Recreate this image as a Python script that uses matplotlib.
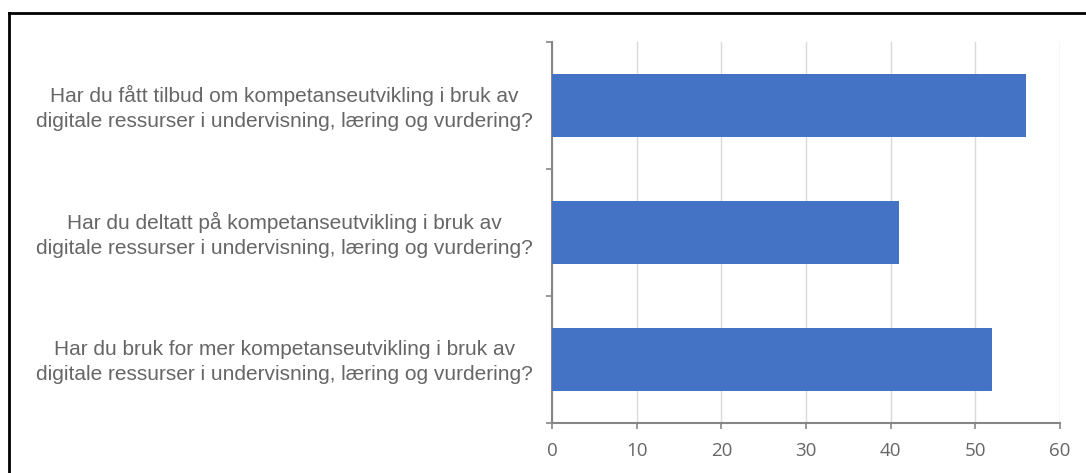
import matplotlib
matplotlib.use("Agg")
import matplotlib.pyplot as plt
from matplotlib.lines import Line2D
from matplotlib.transforms import ScaledTranslation

categories = [
    "Har du fått tilbud om kompetanseutvikling i bruk av\ndigitale ressurser i undervisning, læring og vurdering?",
    "Har du deltatt på kompetanseutvikling i bruk av\ndigitale ressurser i undervisning, læring og vurdering?",
    "Har du bruk for mer kompetanseutvikling i bruk av\ndigitale ressurser i undervisning, læring og vurdering?",
]
values = [56, 41, 52]
xticks = [0, 10, 20, 30, 40, 50, 60]

TEXT = "#666666"
AXIS = "#868686"

fig = plt.figure(figsize=(10.86, 4.73), dpi=100)
ax = fig.add_axes([552/1086, 1-423/473, (1060-552)/1086, (423-42)/473])

pos = list(range(len(categories)))
ax.barh(pos, values, height=0.5, color="#4472C4", zorder=3)
ax.set_ylim(len(categories)-0.5, -0.5)
ax.set_xlim(0, 60)
ax.set_xticks(xticks)
ax.set_xticklabels([str(t) for t in xticks], fontsize=13.5, color=TEXT, family="Open Sans")
ax.tick_params(axis="x", direction="out", length=4, width=1.2, color=AXIS, pad=10)

ax.set_yticks(pos)
ax.set_yticklabels(categories, fontsize=15, color=TEXT, family="Liberation Sans",
                   multialignment="center", linespacing=1.4)
ax.tick_params(axis="y", which="major", length=0, pad=14)
ax.set_yticks([p - 0.5 for p in pos] + [len(categories)-0.5], minor=True)
ax.tick_params(axis="y", which="minor", direction="out", length=4, width=1.2, color=AXIS)
# nudge category labels up a little
for lab in ax.get_yticklabels():
    lab.set_transform(lab.get_transform() + ScaledTranslation(0, 3/100, fig.dpi_scale_trans))

ax.grid(axis="x", color="#d9d9d9", lw=1, zorder=0)
for s in ["top", "right"]:
    ax.spines[s].set_visible(False)
for s in ["left", "bottom"]:
    ax.spines[s].set_color(AXIS)
    ax.spines[s].set_linewidth(1.5)

# outer frame (cropped at right and bottom)
fig.add_artist(Line2D([9/1086, 9/1086], [0, 1-13/473], transform=fig.transFigure, color="black", lw=2))
fig.add_artist(Line2D([9/1086, 1], [1-13/473, 1-13/473], transform=fig.transFigure, color="black", lw=2))

fig.savefig("out.png", dpi=100)
